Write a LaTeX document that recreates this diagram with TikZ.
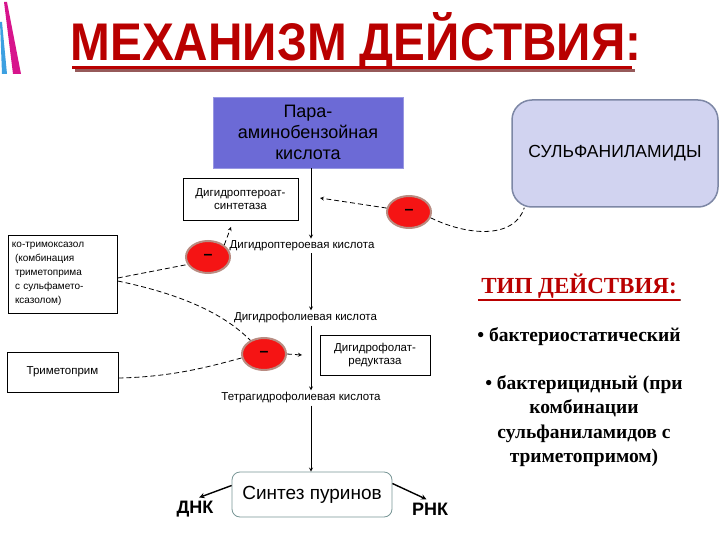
\documentclass[tikz,border=0pt]{standalone}
\usepackage{fontspec}
\setmainfont{Liberation Serif}
\setsansfont{Liberation Sans}
\usetikzlibrary{shapes,arrows,positioning}

\definecolor{titlered}{RGB}{185,0,0}
\definecolor{shadowred}{RGB}{150,90,90}
\definecolor{pabablue}{RGB}{108,106,214}
\definecolor{sulfafill}{RGB}{209,211,240}
\definecolor{sulfaline}{RGB}{125,135,165}
\definecolor{minusred}{RGB}{245,20,20}
\definecolor{minusrim}{RGB}{185,140,130}
\definecolor{purineline}{RGB}{120,150,150}
\definecolor{stripepink}{RGB}{215,20,140}
\definecolor{stripeblue}{RGB}{60,160,225}

\begin{document}
\begin{tikzpicture}[x=1pt,y=-1pt,font=\sffamily]
  \tikzstyle{enzyme} = [rectangle, draw, thick, fill=white, align=center, font=\sffamily\fontsize{11.5}{13}\selectfont]
  \tikzstyle{drug} = [rectangle, draw, thick, fill=white, font=\sffamily\fontsize{10}{14}\selectfont]
  \tikzstyle{acid} = [inner sep=2pt, font=\sffamily\fontsize{11.5}{13}\selectfont]
  \tikzstyle{block} = [ellipse, fill=minusred, draw=minusrim, line width=2pt, minimum width=44pt, minimum height=32pt, inner sep=0pt, font=\sffamily\bfseries\fontsize{16}{16}\selectfont]
  \tikzstyle{arrow} = [thick,->,>=stealth]
  \tikzstyle{inhib} = [thick,->,>=stealth,dash pattern=on 5pt off 3pt]
  \tikzstyle{link} = [thick,dash pattern=on 5pt off 3pt]
  \tikzstyle{kind} = [align=center, font=\rmfamily\bfseries\fontsize{19.5}{24.5}\selectfont]

  \useasboundingbox (0,0) rectangle (720,540);
  \fill[stripeblue] (0,22) -- (2,22) -- (7,74) -- (2,74) -- cycle;
  \fill[stripepink] (4,2) -- (7,2) -- (21,74) -- (13,74) -- cycle;

  \node[text=titlered, font=\sffamily\bfseries\fontsize{53}{53}\selectfont] (title) at (356,42) {\scalebox{0.9}[1]{МЕХАНИЗМ ДЕЙСТВИЯ:}};
  \draw[shadowred, line width=3pt] (75,71) -- (635,71);
  \draw[titlered, line width=3pt] (72,68) -- (632,68);

  \coordinate (axis) at (311,0);
  \node[rectangle, draw=pabablue!70!white, fill=pabablue, minimum width=190pt, minimum height=71pt, align=center, font=\sffamily\fontsize{18}{21}\selectfont] (paba) at (308,132.5) {Пара-\\аминобензойная\\кислота};
  \node[rectangle, rounded corners=20pt, draw=sulfaline, line width=1.5pt, fill=sulfafill, minimum width=206pt, minimum height=107pt, font=\sffamily\fontsize{17.5}{20}\selectfont] (sulfa) at (615,153.5) {СУЛЬФАНИЛАМИДЫ};
  \node[enzyme, minimum width=115pt, minimum height=42pt] (synthase) at (240.5,199) {Дигидроптероат-\\синтетаза};
  \node[acid] (dhpa) at (302,246) {Дигидроптероевая кислота};
  \node[acid] (dhfa) at (305.5,318) {Дигидрофолиевая кислота};
  \node[enzyme, minimum width=110pt, minimum height=40pt] (reductase) at (375,355) {Дигидрофолат-\\редуктаза};
  \node[acid] (thfa) at (301,398) {Тетрагидрофолиевая кислота};
  \node[rectangle, rounded corners=8pt, draw=purineline, thick, fill=white, minimum width=160pt, minimum height=45pt, font=\sffamily\fontsize{19}{22}\selectfont] (purine) at (312,494.5) {Синтез пуринов};
  \node[font=\sffamily\bfseries\fontsize{18}{20}\selectfont] (dna) at (195,509) {ДНК};
  \node[font=\sffamily\bfseries\fontsize{18}{20}\selectfont] (rna) at (430,509) {РНК};
  \node[drug, text width=102pt, minimum height=78pt, align=left] (cotri) at (63,274) {ко-тримоксазол\\\hspace*{3pt}(комбинация\\\hspace*{3pt}триметоприма\\\hspace*{3pt}с сульфамето-\\\hspace*{3pt}ксазолом)};
  \node[drug, minimum width=111pt, minimum height=40pt, font=\sffamily\fontsize{11.5}{13}\selectfont] (tmp) at (62.5,372) {Триметоприм};

  \coordinate (step1) at (320,198);
  \coordinate (step2) at (231,227);
  \coordinate (step3) at (302,355);

  \draw[arrow] (paba.south -| axis) -- (dhpa.north -| axis);
  \draw[arrow] (dhpa.south -| axis) -- (dhfa.north -| axis);
  \draw[arrow] (dhfa.south -| axis) -- (thfa.north -| axis);
  \draw[arrow] (thfa.south -| axis) -- (purine.north -| axis);
  \draw[arrow, line width=1.4pt] ([yshift=9pt]purine.west) -- (dna.70);
  \draw[arrow, line width=1.4pt] ([yshift=11pt]purine.east) -- (rna.110);

  \node[block] (m1) at (409,212) {--};
  \node[block] (m2) at (208,257) {--};
  \node[block] (m3) at (264,354) {--};

  \draw[inhib] (m1.170) -- (step1);
  \draw[link] (m1.-15) .. controls (470,237) and (515,238) .. ([xshift=13pt]sulfa.south west);
  \draw[inhib] (m2.north east) -- (step2);
  \draw[link] ([yshift=-4pt]cotri.east) -- (m2.200);
  \draw[link] ([yshift=-7pt]cotri.east) .. controls (185,295) and (225,315) .. (m3.135);
  \draw[link] ([yshift=-6pt]tmp.east) .. controls (175,377) and (215,365) .. (m3.190);
  \draw[inhib] (m3.east) -- (step3);

  \node[text=titlered, font=\rmfamily\bfseries\fontsize{23}{23}\selectfont] (typehead) at (579,286) {ТИП ДЕЙСТВИЯ:};
  \draw[shadowred, line width=1.5pt] ([shift={(1,-2)}]typehead.south west) -- ([shift={(1,-2)}]typehead.south east);
  \draw[titlered, line width=1.5pt] ([yshift=2pt]typehead.south west) -- ([yshift=2pt]typehead.south east);
  \node[kind] (stat) at (579,337) {• бактериостатический};
  \node[kind] (cidal) at (584,421) {• бактерицидный (при\\комбинации\\сульфаниламидов с\\триметопримом)};
\end{tikzpicture}
\end{document}
